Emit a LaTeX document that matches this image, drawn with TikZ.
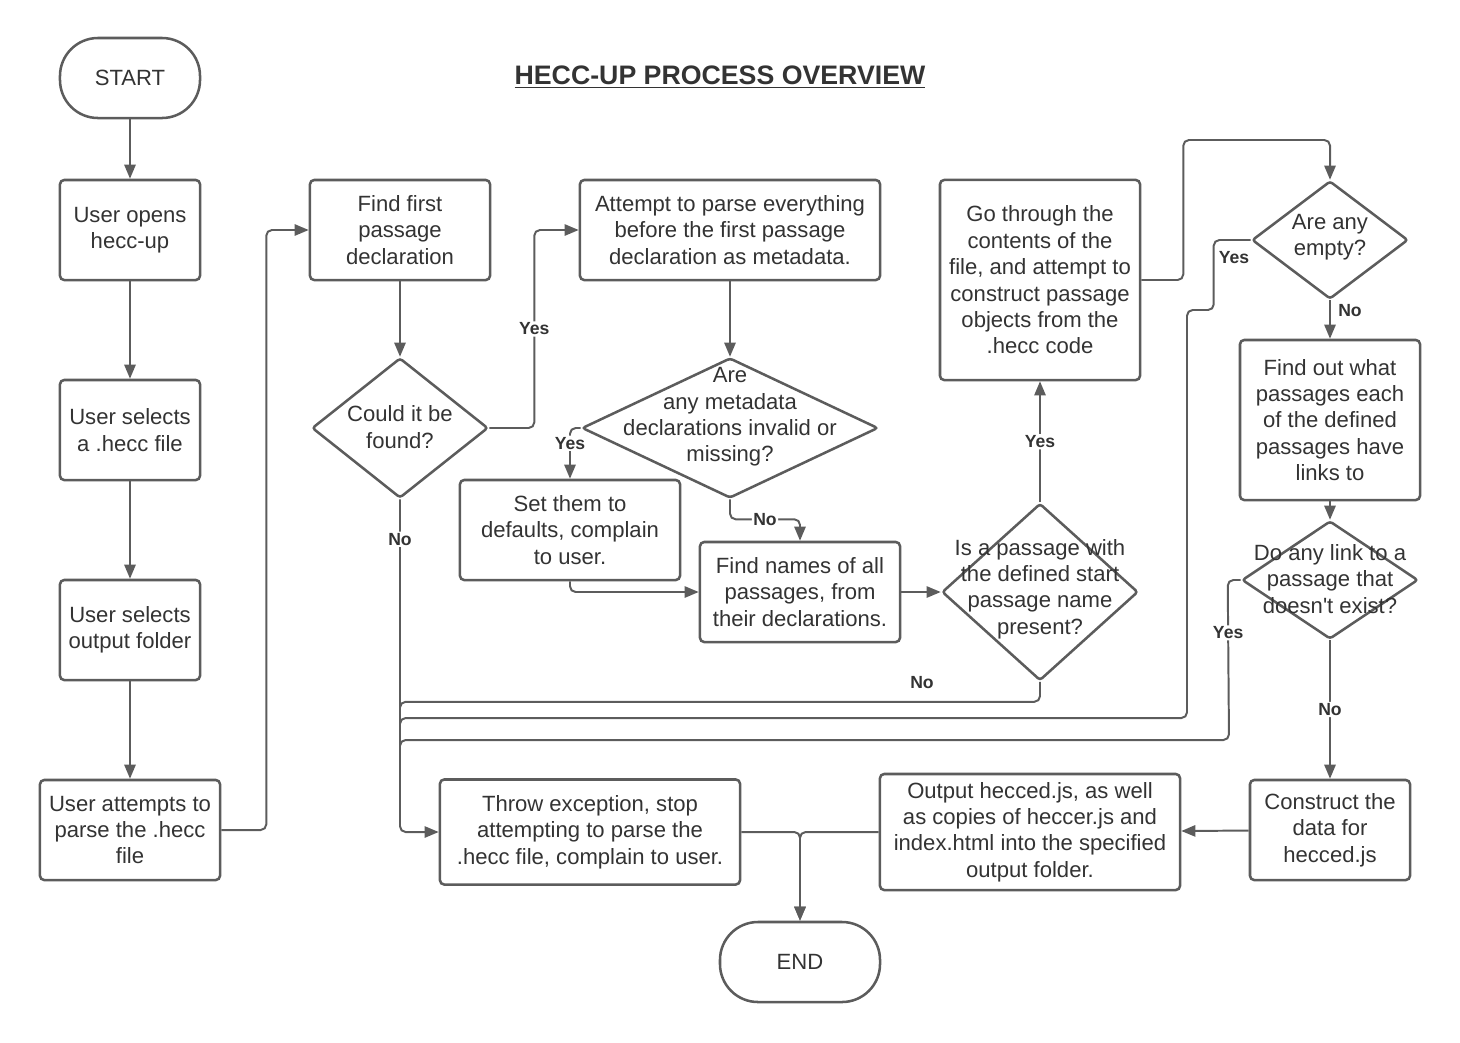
\documentclass[tikz,border=0pt]{standalone}
\usepackage{fontspec}
\setmainfont{Liberation Sans}[Ligatures=TeXOff]
\usetikzlibrary{arrows.meta, shapes.geometric}
\definecolor{linegray}{HTML}{5C5C5C}
\definecolor{textgray}{HTML}{333333}
\tikzset{>={Triangle[length=10pt,width=8pt]},
  txt/.style={font=\fontsize{15.7}{18.8}\selectfont, text=textgray, align=center},
  box/.style={txt, draw=linegray, line width=1.8pt, rounded corners=3pt, inner sep=2pt},
  term/.style={box, rounded corners=0.95cm},
  decision/.style={draw=linegray, line width=1.8pt, diamond, inner sep=0pt, rounded corners=2pt},
  conn/.style={draw=linegray, line width=1.4pt, rounded corners=4pt},
  lbl/.style={font=\fontsize{12.5}{14}\selectfont\bfseries, text=textgray, fill=white, inner sep=1pt}
}

\begin{document}
\begin{tikzpicture}[x=0.025cm, y=-0.025cm]
\useasboundingbox (0,0) rectangle (1460,1042);
\node[txt, font=\fontsize{19}{22}\selectfont\bfseries] (title) at (720,77) {\underline{HECC-UP PROCESS OVERVIEW}};
\node[term, minimum width=3.5cm, minimum height=2cm] (start) at (130,78) {START};
\node[box, minimum width=3.5cm, minimum height=2.5cm] (opens) at (130,230) {User opens\\hecc-up};
\node[box, minimum width=3.5cm, minimum height=2.5cm] (selfile) at (130,430) {User selects\\a .hecc file};
\node[box, minimum width=3.5cm, minimum height=2.5cm] (selout) at (130,630) {User selects\\output folder};
\node[box, minimum width=4.5cm, minimum height=2.5cm] (parse) at (130,830) {User attempts to\\parse the .hecc\\file};
\node[box, minimum width=4.5cm, minimum height=2.5cm] (first) at (400,230) {Find first\\passage\\declaration};
\node[decision, minimum width=4.4cm, minimum height=3.5cm] (could) at (400,428) {};
\node[txt] (could-t) at (400,427) {Could it be\\found?};
\node[box, minimum width=7.5cm, minimum height=2.5cm] (meta-p) at (730,230) {Attempt to parse everything\\before the first passage\\declaration as metadata.};
\node[decision, minimum width=7.4cm, minimum height=3.5cm] (meta) at (730,428) {};
\node[txt] (meta-t) at (730,417) {Are\\any metadata\\declarations invalid or\\missing?};
\node[box, minimum width=5.5cm, minimum height=2.5cm] (defaults) at (570,530) {Set them to\\defaults, complain\\to user.};
\node[box, minimum width=5cm, minimum height=2.5cm] (names) at (800,592) {Find names of all\\passages, from\\their declarations.};
\node[decision, minimum width=4.9cm, minimum height=4.425cm] (start-q) at (1040,592) {};
\node[txt] (start-q-t) at (1040,589) {Is a passage with\\the defined start\\passage name\\present?};
\node[box, minimum width=5cm, minimum height=5cm] (build) at (1040,280) {Go through the\\contents of the\\file, and attempt to\\construct passage\\objects from the\\.hecc code};
\node[decision, minimum width=3.9cm, minimum height=2.95cm] (empty) at (1330,240) {};
\node[txt] (empty-t) at (1330,237) {Are any\\empty?};
\node[box, minimum width=4.5cm, minimum height=4cm] (links) at (1330,420) {Find out what\\passages each\\of the defined\\passages have\\links to};
\node[decision, minimum width=4.4cm, minimum height=2.95cm] (dead) at (1330,580) {};
\node[txt] (dead-t) at (1330,579) {Do any link to a\\passage that\\doesn't exist?};
\node[box, minimum width=4cm, minimum height=2.5cm] (data) at (1330,830) {Construct the\\data for\\hecced.js};
\node[box, minimum width=7.5cm, minimum height=2.9cm] (output) at (1030,832) {Output hecced.js, as well\\as copies of heccer.js and\\index.html into the specified\\output folder.};
\node[box, minimum width=7.5cm, minimum height=2.625cm] (throw) at (590,832) {Throw exception, stop\\attempting to parse the\\.hecc file, complain to user.};
\node[term, minimum width=4cm, minimum height=2cm] (end) at (800,962) {END};
\coordinate (join) at (400,760);
\coordinate (top) at (1330,140);
\draw[conn,->] (start) -- (opens);
\draw[conn,->] (opens) -- (selfile);
\draw[conn,->] (selfile) -- (selout);
\draw[conn,->] (selout) -- (parse);
\draw[conn,->] (parse.east) -- ++(45,0) |- (first.west);
\draw[conn,->] (first) -- (could);
\draw[conn,->] (could.east) -- ++(45,0) |- node[lbl, pos=0.25] (could-yes) {Yes} (meta-p.west);
\draw[conn,->] (could.south) |- node[lbl, pos=0.06] (could-no) {No} (throw.west);
\draw[conn,->] (meta-p) -- (meta);
\draw[conn,->] (meta.west) -| node[lbl, pos=0.65] (meta-yes) {Yes} (defaults.north);
\draw[conn,->] (meta.south) -- ++(0,20) -| node[lbl, pos=0.25] (meta-no) {No} (names.north);
\draw[conn,->] (defaults.south) |- (names.west);
\draw[conn,->] (names) -- (start-q);
\draw[conn,->] (start-q) -- node[lbl] (found-yes) {Yes} (build);
\draw[conn] (start-q.south) -- ++(0,20) -| (join);
\node[lbl, fill=none] (found-no) at (922,683) {No};
\draw[conn,->] (build.east) -- ++(42,0) |- (top) -- (empty.north);
\draw[conn] (empty.west) -- ++(-37,0) -- ++(0,70) -| (1187,718) -| (join);
\node[lbl, fill=none] (empty-yes) at (1234,258) {Yes};
\draw[conn,->] (empty) -- (links);
\node[lbl, fill=none] (empty-no) at (1350,311) {No};
\draw[conn,->] (links) -- (dead);
\draw[conn] (dead.west) -- ++(-13,0) -- node[lbl, pos=0.33] (dead-yes) {Yes} (1229,740) -| (join);
\draw[conn,->] (dead) -- node[lbl] (dead-no) {No} (data);
\draw[conn,->] (data) -- (output);
\draw[conn,->] (output.west) -| (end.north);
\draw[conn,->] (throw.east) -| (end.north);
\end{tikzpicture}
\end{document}
